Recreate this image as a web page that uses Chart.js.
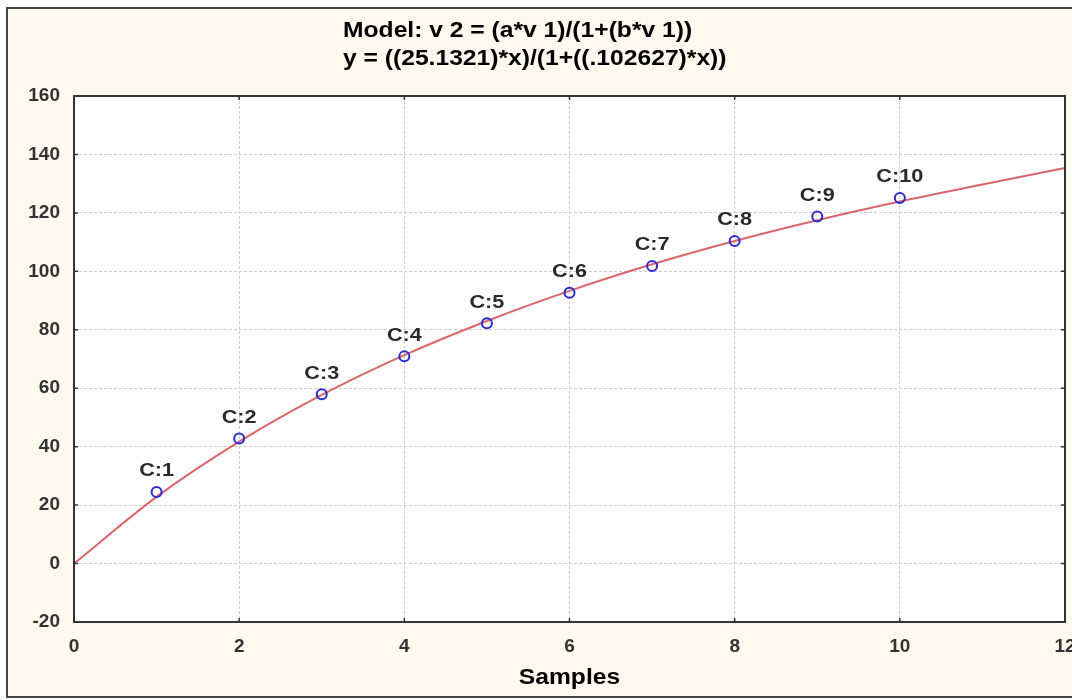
<!DOCTYPE html>
<html>
<head>
<meta charset="utf-8">
<script src="https://cdn.jsdelivr.net/npm/chart.js@4.4.1/dist/chart.umd.min.js"></script>
<style>
  html, body { margin: 0; padding: 0; background: #ffffff; }
  #wrap { width: 1072px; height: 700px; }
</style>
</head>
<body>
<div id="wrap"><canvas id="fitChart" width="1072" height="700"></canvas></div>
<script>
const sampleX = [1, 2, 3, 4, 5, 6, 7, 8, 9, 10];
const sampleY = [24.5, 42.8, 57.9, 70.9, 82.2, 92.7, 101.8, 110.4, 118.8, 125.1];
const sampleLabels = ['C:1', 'C:2', 'C:3', 'C:4', 'C:5', 'C:6', 'C:7', 'C:8', 'C:9', 'C:10'];

// fitted curve, read at whole x values
const curveX = [0, 1, 2, 3, 4, 5, 6, 7, 8, 9, 10, 11, 12];
const curveY = [0, 22.8, 41.7, 57.7, 71.3, 83.0, 93.3, 102.4, 110.4, 117.5, 123.9, 129.7, 135.4];

const titleLines = [
    'Model: v 2 = (a*v 1)/(1+(b*v 1))',
    'y = ((25.1321)*x)/(1+((.102627)*x))'
];
const xTitle = 'Samples';

const FONT = '"Liberation Sans", Arial, sans-serif';

// the picture's text is a bit wide, so stretch it sideways
function wideText(ctx, text, x, y, stretch) {
    ctx.save();
    ctx.translate(x, y);
    ctx.scale(stretch, 1);
    ctx.fillText(text, 0, 0);
    ctx.restore();
}

const framePlugin = {
    id: 'frame',
    beforeDraw(chart) {
        const ctx = chart.ctx;
        const a = chart.chartArea;
        ctx.save();
        ctx.fillStyle = '#ffffff';
        ctx.fillRect(0, 0, chart.width, chart.height);
        ctx.fillStyle = '#fdf9ee';
        ctx.fillRect(7, 8, chart.width, 689);
        ctx.strokeStyle = '#444';
        ctx.lineWidth = 2;
        ctx.strokeRect(7, 8, chart.width + 10, 689);
        ctx.fillStyle = '#ffffff';
        ctx.fillRect(a.left, a.top, a.right - a.left, a.bottom - a.top);

        // titles
        ctx.fillStyle = '#000';
        ctx.font = 'bold 22px ' + FONT;
        ctx.textAlign = 'left';
        ctx.textBaseline = 'middle';
        wideText(ctx, titleLines[0], 343, 31, 1.12);
        wideText(ctx, titleLines[1], 343, 59, 1.12);
        ctx.restore();
    },
    afterDraw(chart) {
        const ctx = chart.ctx;
        const a = chart.chartArea;
        const xs = chart.scales.x, ys = chart.scales.y;
        ctx.save();
        ctx.strokeStyle = '#333';
        ctx.lineWidth = 2;
        ctx.strokeRect(a.left, a.top, a.right - a.left, a.bottom - a.top);
        ctx.lineWidth = 1.5;
        ctx.beginPath();
        xs.ticks.forEach(t => {
            const px = xs.getPixelForValue(t.value);
            ctx.moveTo(px, a.bottom); ctx.lineTo(px, a.bottom - 4);
            ctx.moveTo(px, a.top); ctx.lineTo(px, a.top + 4);
        });
        ys.ticks.forEach(t => {
            const py = ys.getPixelForValue(t.value);
            ctx.moveTo(a.left, py); ctx.lineTo(a.left + 4, py);
            ctx.moveTo(a.right, py); ctx.lineTo(a.right - 4, py);
        });
        ctx.stroke();

        // point labels
        const meta = chart.getDatasetMeta(0);
        ctx.fillStyle = '#2a2a2a';
        ctx.font = 'bold 19px ' + FONT;
        ctx.textAlign = 'center';
        ctx.textBaseline = 'middle';
        meta.data.forEach((pt, i) => {
            wideText(ctx, sampleLabels[i], pt.x, pt.y - 21, 1.14);
        });

        // x axis title
        ctx.fillStyle = '#000';
        ctx.font = 'bold 22px ' + FONT;
        wideText(ctx, xTitle, (a.left + a.right) / 2, 678, 1.12);
        ctx.restore();
    }
};

const ctx = document.getElementById('fitChart').getContext('2d');
new Chart(ctx, {
    type: 'scatter',
    data: {
        datasets: [
            {
                label: 'samples',
                data: sampleX.map((x, i) => ({ x: x, y: sampleY[i] })),
                showLine: false,
                pointStyle: 'circle',
                pointRadius: 5,
                pointBorderWidth: 2,
                pointBorderColor: '#2b2bd0',
                pointBackgroundColor: 'rgba(255,255,255,0)'
            },
            {
                label: 'fit',
                data: curveX.map((x, i) => ({ x: x, y: curveY[i] })),
                showLine: true,
                borderColor: '#d9666a',
                borderWidth: 2,
                pointRadius: 0,
                cubicInterpolationMode: 'monotone'
            }
        ]
    },
    options: {
        responsive: false,
        animation: false,
        layout: { padding: { top: 96, left: 0, right: 6, bottom: 0 } },
        plugins: {
            legend: { display: false },
            title: { display: false },
            tooltip: { enabled: false }
        },
        scales: {
            x: {
                type: 'linear',
                min: 0,
                max: 12,
                ticks: {
                    stepSize: 2,
                    padding: 13,
                    color: '#333',
                    font: { family: FONT, size: 19, weight: 'bold' }
                },
                grid: {
                    color: '#cdcdcd',
                    lineWidth: 1,
                    drawTicks: false
                },
                border: { display: false, dash: [3, 2] },
                afterFit(scale) {
                    scale.height = 78;
                    scale.paddingRight = 6;
                    scale.paddingLeft = 0;
                }
            },
            y: {
                min: -20,
                max: 160,
                ticks: {
                    stepSize: 20,
                    padding: 14,
                    color: '#333',
                    font: { family: FONT, size: 19, weight: 'bold' }
                },
                grid: {
                    color: '#cdcdcd',
                    lineWidth: 1,
                    drawTicks: false
                },
                border: { display: false, dash: [3, 2] },
                afterFit(scale) {
                    scale.width = 74;
                    scale.paddingTop = 0;
                    scale.paddingBottom = 0;
                }
            }
        }
    },
    plugins: [framePlugin]
});
</script>
</body>
</html>
